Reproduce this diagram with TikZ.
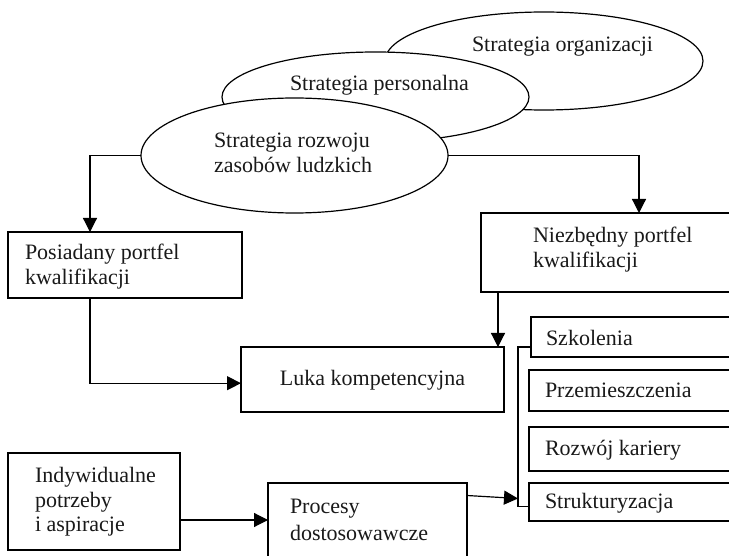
\documentclass[tikz,border=0pt]{standalone}
\usepackage{fontspec}
\setmainfont{Liberation Serif}
\usetikzlibrary{shapes.geometric,arrows.meta}
\tikzset{
  ln/.style={line width=1.2pt, draw=black},
  arr/.style={ln, -{Triangle[length=14pt,width=14pt]}},
  ell/.style={ln, ellipse, fill=white, inner sep=0pt, outer sep=0pt},
  boxr/.style={ln, rectangle, fill=white, inner sep=0pt, outer sep=0pt},
  txt/.style={inner sep=0pt, outer sep=0pt, anchor=base west, text=black!90, font=\fontsize{22}{25}\selectfont},
}
\begin{document}
\begin{tikzpicture}[x=1pt,y=-1pt]
\useasboundingbox (0,0) rectangle (729,556);
\clip (0,0) rectangle (729,556);
\fill[white] (0,0) rectangle (729,556);
% ellipses
\node[ell, minimum width=318pt, minimum height=98pt] (org) at (544,61) {};
\node[ell, minimum width=307pt, minimum height=90pt] (pers) at (375.5,97) {};
\node[ell, minimum width=307pt, minimum height=115pt] (rozw) at (294.5,155.5) {};
\node[txt] (torg) at (472,52) {Strategia organizacji};
\node[txt] (tpers) at (290,91) {Strategia personalna};
\node[txt] (troz1) at (214,148) {Strategia rozwoju};
\node[txt] (troz2) at (214,173) {zasobów ludzkich};
% boxes
\node[boxr, minimum width=234pt, minimum height=66pt] (posiadany) at (125,265) {};
\node[boxr, minimum width=319pt, minimum height=79pt] (niezbedny) at (640.5,252.5) {};
\node[boxr, minimum width=263pt, minimum height=65pt] (luka) at (372.5,379.5) {};
\node[boxr, minimum width=269pt, minimum height=40pt] (szk) at (665.5,337) {};
\node[boxr, minimum width=271pt, minimum height=41pt] (prz) at (664.5,390.5) {};
\node[boxr, minimum width=271pt, minimum height=44pt] (roz) at (664.5,449) {};
\node[boxr, minimum width=271pt, minimum height=38pt] (str) at (664.5,502) {};
\node[boxr, minimum width=172pt, minimum height=97pt] (indyw) at (94,501.5) {};
\node[boxr, minimum width=199pt, minimum height=137pt] (procesy) at (367.5,551.5) {};
% texts
\node[txt] (tpos1) at (25,260) {Posiadany portfel};
\node[txt] (tpos2) at (25,285) {kwalifikacji};
\node[txt] (tnie1) at (533,243) {Niezbędny portfel};
\node[txt] (tnie2) at (533,268) {kwalifikacji};
\node[txt, anchor=base] (tluka) at (372.5,385) {Luka kompetencyjna};
\node[txt] (tszk) at (546,345) {Szkolenia};
\node[txt] (tprz) at (545,398) {Przemieszczenia};
\node[txt] (troz) at (545,455) {Rozwój kariery};
\node[txt] (tstr) at (545,508) {Strukturyzacja};
\node[txt] (tind1) at (35,482) {Indywidualne};
\node[txt] (tind2) at (35,507) {potrzeby};
\node[txt] (tind3) at (35,531) {i aspiracje};
\node[txt] (tpro1) at (290,513) {Procesy};
\node[txt] (tpro2) at (290,540) {dostosowawcze};
% connectors
\coordinate (p1) at ([xshift=82pt]posiadany.north west);
\coordinate (p2) at ([xshift=82pt]posiadany.south west);
\coordinate (n1) at ([xshift=17pt]niezbedny.south west);
\coordinate (n2) at ([xshift=158pt]niezbedny.north west);
\coordinate (brk) at (518,498.5);
\coordinate (bbot) at (518,506.7);
\draw[arr] (rozw.west) -| (p1);
\draw[arr] (rozw.east) -| (n2);
\draw[arr] (p2) |- ([yshift=-3.7pt]luka.west);
\draw[arr] (n1) -- (n1 |- luka.north);
\draw[arr] ([yshift=-18.5pt]indyw.east) -- ([yshift=-18.5pt]indyw.east -| procesy.west);
\draw[ln] ([yshift=-10pt]szk.west) -| (bbot) -- (bbot -| str.west);
\draw[arr] ([yshift=56pt]procesy.east) -- (brk);
\end{tikzpicture}
\end{document}
